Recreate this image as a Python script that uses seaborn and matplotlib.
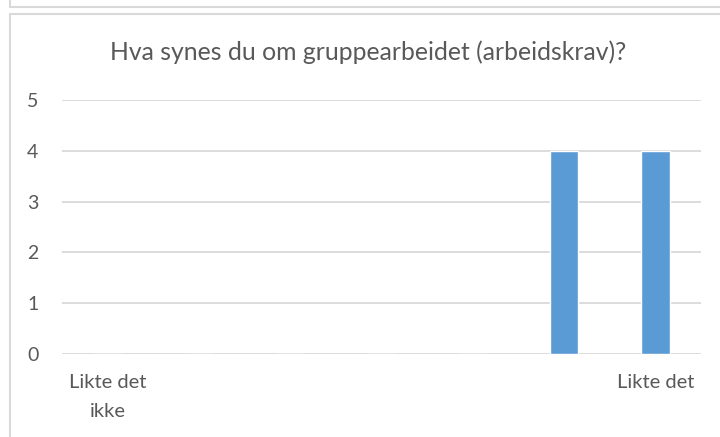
import numpy as np
import pandas as pd
import seaborn as sns
import matplotlib.pyplot as plt
from matplotlib.lines import Line2D

# svar paa skala 1-7, bare endepunktene har tekst
categories = ["1", "2", "3", "4", "5", "6", "7"]
counts = [0, 0, 0, 0, 0, 4, 4]
tick_labels = ["Likte det\nikke", "", "", "", "", "", "Likte det"]
title = "Hva synes du om gruppearbeidet (arbeidskrav)?"

df = pd.DataFrame({"svar": categories, "antall": counts})

sns.set_style("white")
plt.rcParams["font.family"] = ["Lato", "DejaVu Sans"]

txt = "#595959"
grid = "#d9d9d9"

fig = plt.figure(figsize=(7.2, 4.37), dpi=100)
ax = fig.add_axes([62 / 720, 1 - 354 / 437, 639 / 720, 254 / 437])

sns.barplot(data=df, x="svar", y="antall", color="#5b9bd5", width=0.31,
            saturation=1, ax=ax, zorder=3)

ax.set_ylim(0, 5)
ax.set_xlim(-0.5, 6.5)
ax.set_yticks(range(6))
ax.yaxis.grid(True, color=grid, linewidth=1.3, zorder=0)
ax.set_axisbelow(True)
ax.set_xticks(range(len(categories)))
ax.set_xticklabels(tick_labels, linespacing=1.85)
ax.tick_params(axis="y", length=0, pad=17, labelsize=14, labelcolor=txt)
ax.tick_params(axis="x", length=0, pad=14.5, labelsize=14.5, labelcolor=txt)
ax.set_xlabel("")
ax.set_ylabel("")
for s in ax.spines.values():
    s.set_visible(False)

fig.text(368 / 720, 1 - 52 / 437, title, ha="center", va="center",
         fontsize=17.8, color=txt)

# rammene rundt diagrammet (Excel-boks)
W, H = 720, 437
def fline(xs, ys):
    fig.add_artist(Line2D([x / W for x in xs], [1 - y / H for y in ys],
                          color=grid, linewidth=1.5, transform=fig.transFigure))

fline([10, 10], [0, 7])
fline([10, 720], [7, 7])
fline([10, 720], [14, 14])
fline([10, 10], [14, 437])

fig.savefig("out.png", dpi=100)
